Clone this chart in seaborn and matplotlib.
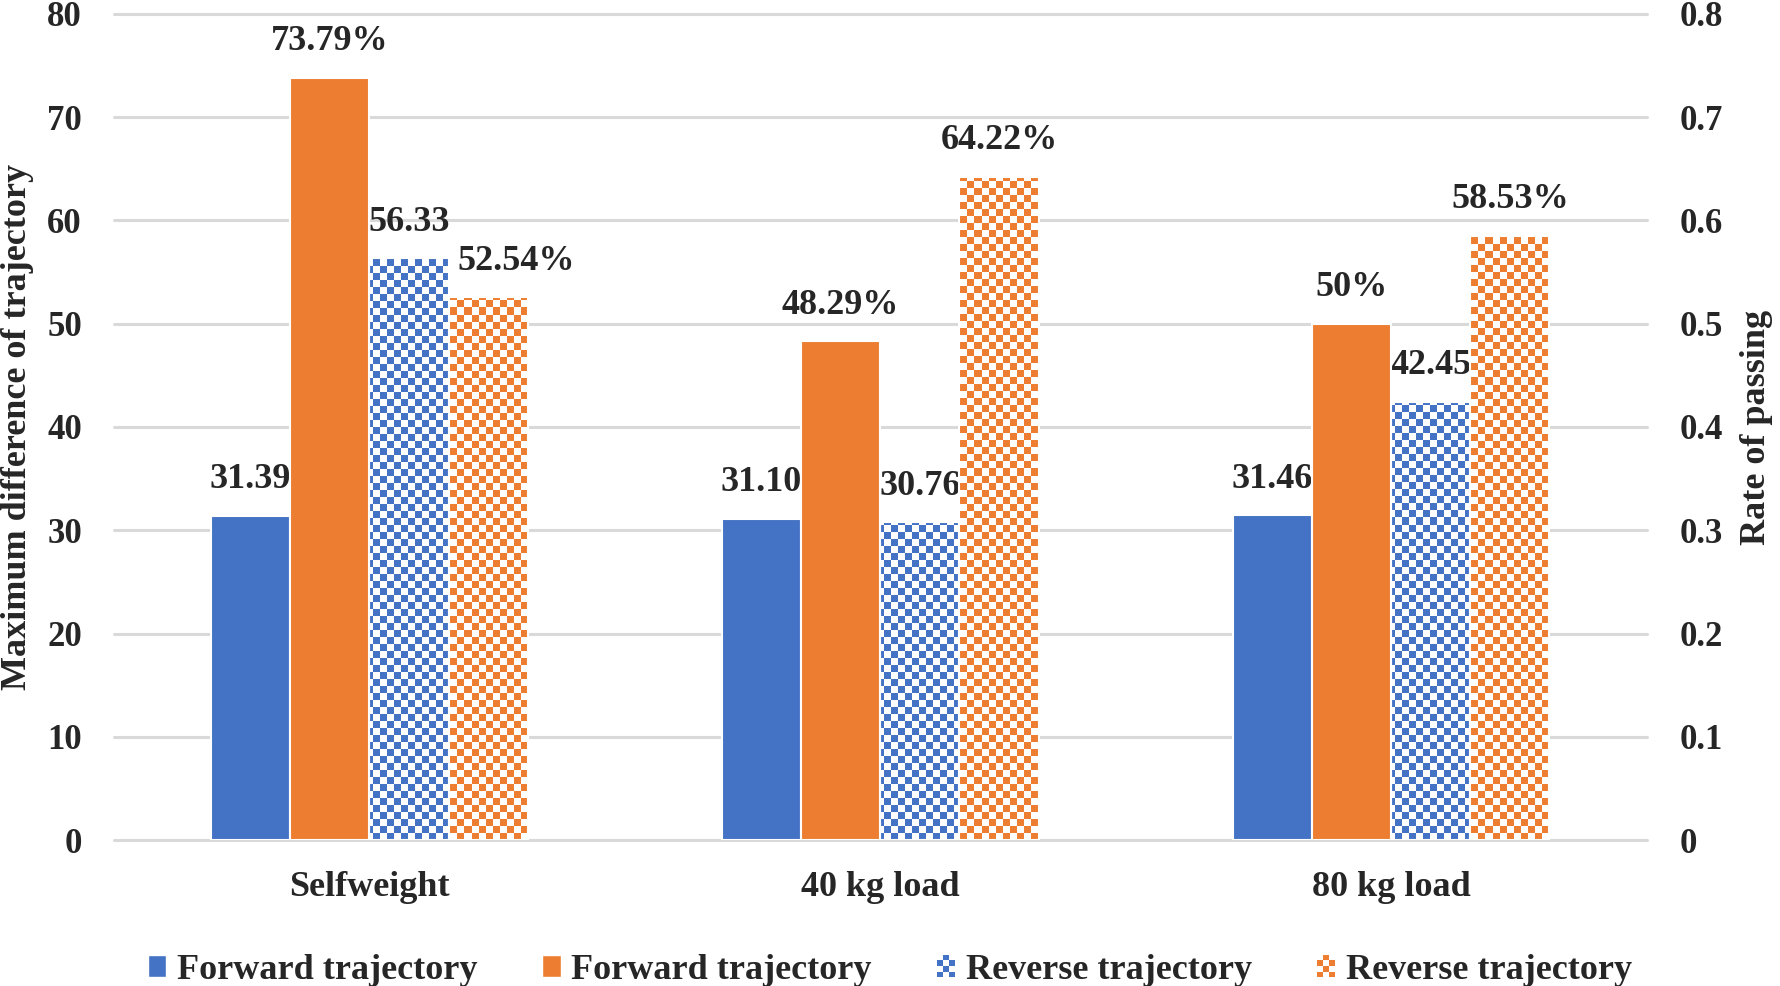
import numpy as np
import pandas as pd
import matplotlib.pyplot as plt
import seaborn as sns
from matplotlib.colors import ListedColormap
from matplotlib.legend_handler import HandlerBase
from matplotlib.patches import Rectangle, Patch

categories = ['Selfweight', '40 kg load', '80 kg load']
forward_diff = [31.39, 31.10, 31.46]      # left axis
forward_rate = [0.7379, 0.4829, 0.50]     # right axis
reverse_diff = [56.33, 30.76, 42.45]      # left axis
reverse_rate = [0.5254, 0.6422, 0.5853]   # right axis
series_keys = ['fwd_diff', 'fwd_rate', 'rev_diff', 'rev_rate']
series_labels = ['Forward trajectory', 'Forward trajectory',
                 'Reverse trajectory', 'Reverse trajectory']
left_ticks = [0, 10, 20, 30, 40, 50, 60, 70, 80]
right_ticks = [0, 0.1, 0.2, 0.3, 0.4, 0.5, 0.6, 0.7, 0.8]

BLUE = '#4472C4'
ORANGE = '#ED7D31'
GRID = '#D9D9D9'
palette = dict(zip(series_keys, [BLUE, ORANGE, BLUE, ORANGE]))


class CheckerHandler(HandlerBase):
    def __init__(self, color, cols=3, rows=4):
        super().__init__()
        self.color = color
        self.cols = cols
        self.rows = rows

    def create_artists(self, legend, orig_handle, xdescent, ydescent,
                       width, height, fontsize, trans):
        w = width / self.cols
        h = height / self.rows
        out = []
        for i in range(self.rows):
            for j in range(self.cols):
                fc = self.color if (i + j) % 2 == 0 else 'white'
                out.append(Rectangle((-xdescent + j * w, -ydescent + i * h), w, h,
                                     facecolor=fc, edgecolor='none', transform=trans))
        return out


def checker_fill(ax, bars, color, ymax):
    ny, nx = 118, 219
    grid = np.indices((ny, nx)).sum(axis=0) % 2
    x0, x1 = ax.get_xlim()
    for bar in bars:
        bar.set_facecolor('none')
        img = ax.imshow(grid, cmap=ListedColormap(['white', color]),
                        extent=(x0, x1, 0, ymax), origin='lower',
                        interpolation='nearest', aspect='auto',
                        zorder=bar.get_zorder() - 0.05)
        img.set_clip_path(bar)
    ax.set_xlim(x0, x1)
    ax.set_ylim(0, ymax)


def add_labels(ax, bars, texts, shift=None):
    shift = shift or {}
    for bar, t in zip(bars, texts):
        ax.annotate(t, (bar.get_x() + bar.get_width() / 2, bar.get_height()),
                    xytext=(shift.get(t, 0), 26), textcoords='offset points',
                    ha='center', va='center', fontsize=26, fontweight='bold')


def bar_groups(ax):
    # seaborn leaves empty containers for hue levels that have no rows
    groups = [c for c in ax.containers if len(c) > 0]
    return sorted(groups, key=lambda c: c[0].get_x())


sns.set_theme(style='white')
plt.rcParams['font.family'] = ['Liberation Serif', 'DejaVu Serif']
plt.rcParams['font.weight'] = 'bold'
plt.rcParams['axes.labelweight'] = 'bold'

df = pd.DataFrame({
    'load': categories * 4,
    'series': np.repeat(series_keys, len(categories)),
    'value': forward_diff + forward_rate + reverse_diff + reverse_rate,
})
left = df[df['series'].isin(['fwd_diff', 'rev_diff'])]
right = df[df['series'].isin(['fwd_rate', 'rev_rate'])]

fig, ax1 = plt.subplots(figsize=(17.8, 9.86), dpi=100)
fig.subplots_adjust(left=0.064, right=0.925, top=0.986, bottom=0.148)
ax2 = ax1.twinx()

bar_kw = dict(x='load', y='value', hue='series', hue_order=series_keys,
              order=categories, palette=palette, width=0.62, errorbar=None,
              saturation=1, edgecolor='white', linewidth=1.5, legend=False)
sns.barplot(data=left, ax=ax1, **bar_kw)
sns.barplot(data=right, ax=ax2, **bar_kw)

for ax, ymax, ticks in [(ax1, 80, left_ticks), (ax2, 0.8, right_ticks)]:
    ax.set_xlim(-0.5, 2.5)
    ax.set_ylim(0, ymax)
    ax.set_yticks(ticks)
    ax.set_xlabel('')
    for s in ax.spines.values():
        s.set_visible(False)
    ax.tick_params(length=0, labelsize=25)

ax1.set_yticklabels([f'{t:g}' for t in left_ticks])
ax2.set_yticklabels([f'{t:g}' for t in right_ticks])
ax1.tick_params(axis='y', pad=23)
ax2.tick_params(axis='y', pad=24)
ax1.tick_params(axis='x', pad=22, labelsize=26)

ax1.set_axisbelow(True)
ax1.yaxis.grid(True, color=GRID, linewidth=2.2)
ax1.xaxis.grid(False)
ax2.grid(False)
for gl in ax1.yaxis.get_gridlines():
    gl.set_clip_on(False)

fwd_diff_bars, rev_diff_bars = bar_groups(ax1)
fwd_rate_bars, rev_rate_bars = bar_groups(ax2)

checker_fill(ax1, rev_diff_bars, BLUE, 80)
checker_fill(ax2, rev_rate_bars, ORANGE, 0.8)

add_labels(ax1, fwd_diff_bars, [f'{v:.2f}' for v in forward_diff])
add_labels(ax1, rev_diff_bars, [f'{v:.2f}' for v in reverse_diff])
add_labels(ax2, fwd_rate_bars, [f'{round(v * 100, 2):g}%' for v in forward_rate])
add_labels(ax2, rev_rate_bars, [f'{round(v * 100, 2):g}%' for v in reverse_rate],
           shift={'52.54%': 20})

ax1.set_ylabel('Maximum difference of trajectory', fontsize=26)
ax1.yaxis.set_label_coords(-0.052, 0.5)
ax2.set_ylabel('Rate of passing', fontsize=26, rotation=90)
ax2.yaxis.set_label_coords(1.0607, 0.5)

handles = [Patch(facecolor=BLUE), Patch(facecolor=ORANGE),
           Patch(facecolor=BLUE), Patch(facecolor=ORANGE)]
fig.legend(handles=handles, labels=series_labels, loc='center',
           bbox_to_anchor=(0.5, 0.016), ncol=4, frameon=False,
           fontsize=26, handlelength=0.5, handleheight=0.6,
           handletextpad=0.3, columnspacing=1.8,
           handler_map={handles[2]: CheckerHandler(BLUE),
                        handles[3]: CheckerHandler(ORANGE)})

plt.savefig('out.png', dpi=100)
